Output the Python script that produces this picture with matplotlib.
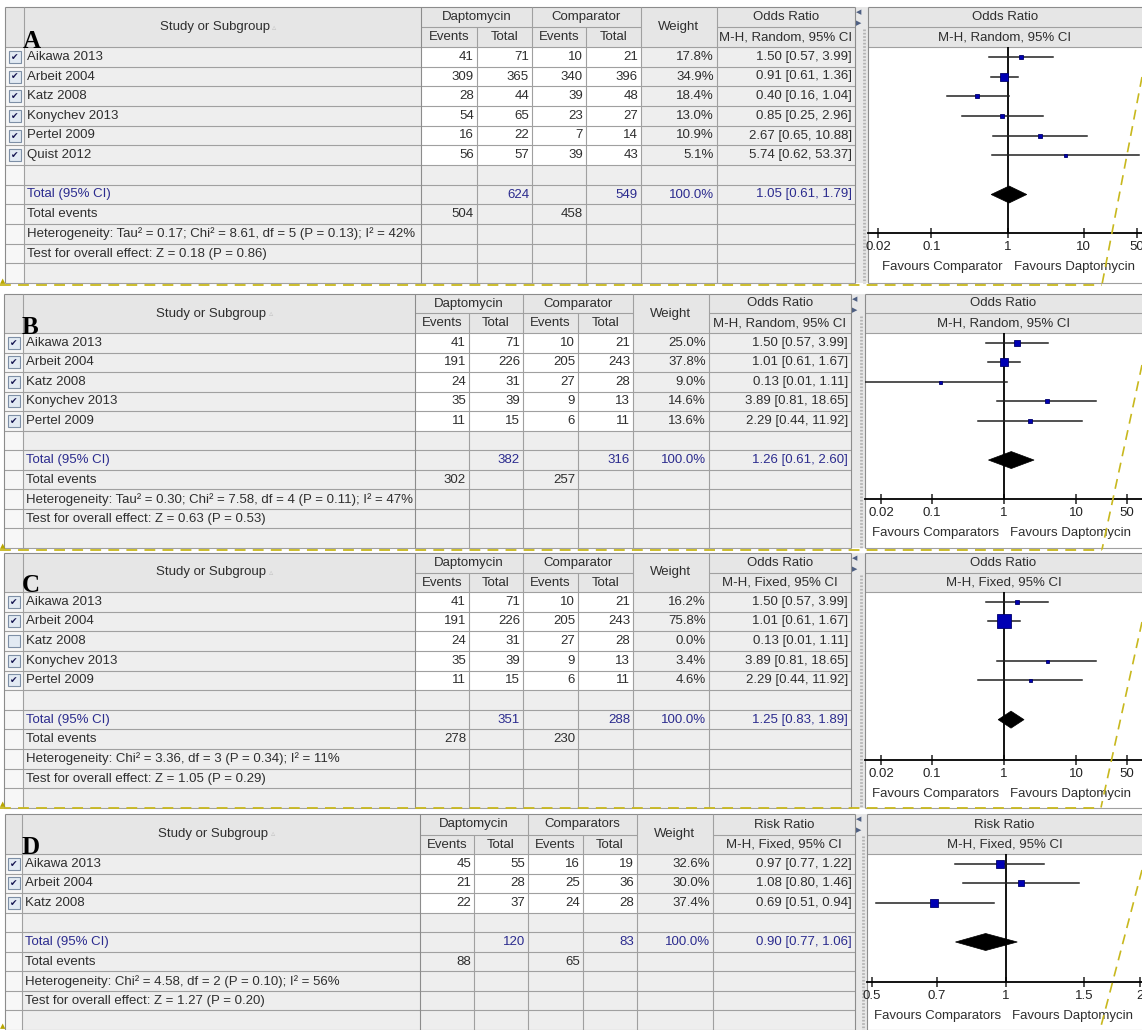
import numpy as np
import matplotlib
matplotlib.use("Agg")
import matplotlib.pyplot as plt
from matplotlib.patches import Rectangle, Polygon
from matplotlib.ticker import FixedLocator, FixedFormatter, NullLocator

plt.rcParams['font.family'] = ['Liberation Sans', 'DejaVu Sans']

# ---------------- data ----------------
# A: odds ratio, random effects, all studies
studies_a = ["Aikawa 2013", "Arbeit 2004", "Katz 2008", "Konychev 2013", "Pertel 2009", "Quist 2012"]
dapt_events_a = [41, 309, 28, 54, 16, 56]
dapt_total_a = [71, 365, 44, 65, 22, 57]
comp_events_a = [10, 340, 39, 23, 7, 39]
comp_total_a = [21, 396, 48, 27, 14, 43]
weight_a = [17.8, 34.9, 18.4, 13.0, 10.9, 5.1]
est_a = [1.50, 0.91, 0.40, 0.85, 2.67, 5.74]
lo_a = [0.57, 0.61, 0.16, 0.25, 0.65, 0.62]
hi_a = [3.99, 1.36, 1.04, 2.96, 10.88, 53.37]
included_a = [True] * 6
pooled_a = [1.05, 0.61, 1.79]
totals_a = [624, 549]
total_events_a = [504, 458]
het_a = "Heterogeneity: Tau² = 0.17; Chi² = 8.61, df = 5 (P = 0.13); I² = 42%"
test_a = "Test for overall effect: Z = 0.18 (P = 0.86)"

# B: odds ratio, random effects
studies_b = ["Aikawa 2013", "Arbeit 2004", "Katz 2008", "Konychev 2013", "Pertel 2009"]
dapt_events_b = [41, 191, 24, 35, 11]
dapt_total_b = [71, 226, 31, 39, 15]
comp_events_b = [10, 205, 27, 9, 6]
comp_total_b = [21, 243, 28, 13, 11]
weight_b = [25.0, 37.8, 9.0, 14.6, 13.6]
est_b = [1.50, 1.01, 0.13, 3.89, 2.29]
lo_b = [0.57, 0.61, 0.01, 0.81, 0.44]
hi_b = [3.99, 1.67, 1.11, 18.65, 11.92]
included_b = [True] * 5
pooled_b = [1.26, 0.61, 2.60]
totals_b = [382, 316]
total_events_b = [302, 257]
het_b = "Heterogeneity: Tau² = 0.30; Chi² = 7.58, df = 4 (P = 0.11); I² = 47%"
test_b = "Test for overall effect: Z = 0.63 (P = 0.53)"

# C: odds ratio, fixed effect, Katz 2008 excluded
studies_c = ["Aikawa 2013", "Arbeit 2004", "Katz 2008", "Konychev 2013", "Pertel 2009"]
dapt_events_c = [41, 191, 24, 35, 11]
dapt_total_c = [71, 226, 31, 39, 15]
comp_events_c = [10, 205, 27, 9, 6]
comp_total_c = [21, 243, 28, 13, 11]
weight_c = [16.2, 75.8, 0.0, 3.4, 4.6]
est_c = [1.50, 1.01, 0.13, 3.89, 2.29]
lo_c = [0.57, 0.61, 0.01, 0.81, 0.44]
hi_c = [3.99, 1.67, 1.11, 18.65, 11.92]
included_c = [True, True, False, True, True]
pooled_c = [1.25, 0.83, 1.89]
totals_c = [351, 288]
total_events_c = [278, 230]
het_c = "Heterogeneity: Chi² = 3.36, df = 3 (P = 0.34); I² = 11%"
test_c = "Test for overall effect: Z = 1.05 (P = 0.29)"

# D: risk ratio, fixed effect
studies_d = ["Aikawa 2013", "Arbeit 2004", "Katz 2008"]
dapt_events_d = [45, 21, 22]
dapt_total_d = [55, 28, 37]
comp_events_d = [16, 25, 24]
comp_total_d = [19, 36, 28]
weight_d = [32.6, 30.0, 37.4]
est_d = [0.97, 1.08, 0.69]
lo_d = [0.77, 0.80, 0.51]
hi_d = [1.22, 1.46, 0.94]
included_d = [True] * 3
pooled_d = [0.90, 0.77, 1.06]
totals_d = [120, 83]
total_events_d = [88, 65]
het_d = "Heterogeneity: Chi² = 4.58, df = 2 (P = 0.10); I² = 56%"
test_d = "Test for overall effect: Z = 1.27 (P = 0.20)"

ticks_or = [0.02, 0.1, 1, 10, 50]
tick_labels_or = ["0.02", "0.1", "1", "10", "50"]
ticks_rr = [0.5, 0.7, 1, 1.5, 2]
tick_labels_rr = ["0.5", "0.7", "1", "1.5", "2"]

# ---------------- figure ----------------
W, H, DPI = 1142, 1030, 100
fig = plt.figure(figsize=(W / DPI, H / DPI), dpi=DPI)
fig.patch.set_facecolor('white')
base = fig.add_axes([0, 0, 1, 1])
base.set_xlim(0, W)
base.set_ylim(H, 0)
base.axis('off')

FS = 9.5
TXT = '#2e2e2e'
BLUE = '#2b2b8e'
GRID = '#a0a0a0'
HDR = '#e6e6e6'
CELL = '#eeeeee'


def rect(x0, y0, x1, y1, fc, z=1, ec='none', lw=0):
    base.add_patch(Rectangle((x0, y0), x1 - x0, y1 - y0, facecolor=fc,
                             edgecolor=ec, lw=lw, zorder=z))


def hline(y, x0, x1, c=GRID, lw=0.8, z=2):
    base.plot([x0, x1], [y, y], color=c, lw=lw, zorder=z, solid_capstyle='butt')


def vline(x, y0, y1, c=GRID, lw=0.8, z=2, ls='-'):
    base.plot([x, x], [y0, y1], color=c, lw=lw, zorder=z, ls=ls, solid_capstyle='butt')


def txt(x, y, s, ha='left', color=TXT, size=FS, **kw):
    base.text(x, y, s, ha=ha, va='center', fontsize=size, color=color, zorder=4, **kw)


def box_side(w):
    return max(3.0, 0.52 * w ** 0.75)


def draw_panel(letter, lay, d):
    cols = lay['cols']
    top, mid, hb, bot = lay['top'], lay['mid'], lay['hb'], lay['bottom']
    n = len(d['studies'])
    nrows = n + 6
    rh = (bot - hb) / nrows
    yc = [hb + (i + 0.5) * rh for i in range(nrows)]

    # cell backgrounds
    rect(cols[0], top, cols[-1], hb, HDR)
    for i in range(nrows):
        y0, y1 = hb + i * rh, hb + (i + 1) * rh
        rect(cols[0], y0, cols[1], y1, '#f7f7f7')
        rect(cols[1], y0, cols[2], y1, CELL)
        rect(cols[2], y0, cols[6], y1, 'white' if i < n else CELL)
        rect(cols[6], y0, cols[8], y1, CELL)

    # grid
    hline(top, cols[0], cols[-1], c='#8c8c8c')
    hline(mid, cols[2], cols[6])
    hline(mid, cols[7], cols[8])
    for i in range(nrows + 1):
        hline(hb + i * rh, cols[0], cols[-1])
    for j, xx in enumerate(cols):
        vline(xx, mid if j in (3, 5) else top, bot, c='#8c8c8c' if j in (0, 2, 8) else GRID)

    # header texts
    base.text(cols[1] - 1, hb + 0.5, letter, ha='left', va='baseline', fontsize=18,
              fontweight='bold', family='Liberation Serif', color='black', zorder=5)
    sc = (cols[1] + cols[2]) / 2 - 8
    txt(sc, (top + hb) / 2, "Study or Subgroup", ha='center')
    txt(sc + 60, (top + hb) / 2 + 1, "▵", ha='center', color='#c4c4c4', size=6)
    txt((cols[2] + cols[4]) / 2, (top + mid) / 2, "Daptomycin", ha='center')
    txt((cols[4] + cols[6]) / 2, (top + mid) / 2, d['group'], ha='center')
    for a in (2, 4):
        txt((cols[a] + cols[a + 1]) / 2, (mid + hb) / 2, "Events", ha='center')
        txt((cols[a + 1] + cols[a + 2]) / 2, (mid + hb) / 2, "Total", ha='center')
    txt((cols[6] + cols[7]) / 2, (top + hb) / 2, "Weight", ha='center')
    txt((cols[7] + cols[8]) / 2, (top + mid) / 2, d['measure'], ha='center')
    txt((cols[7] + cols[8]) / 2, (mid + hb) / 2, d['method'], ha='center')

    # study rows
    for i in range(n):
        y = yc[i]
        cx = (cols[0] + cols[1]) / 2
        base.add_patch(Rectangle((cx - 6, y - 6), 12, 12, facecolor='#e2eaf3',
                                 edgecolor='#7d8fa6', lw=0.8, zorder=3))
        if d['included'][i]:
            base.text(cx, y + 0.5, '✔', ha='center', va='center', fontsize=6.5,
                      color='#141450', zorder=4, family='DejaVu Sans')
        txt(cols[1] + 3, y, d['studies'][i])
        txt(cols[3] - 3, y, str(d['de'][i]), ha='right')
        txt(cols[4] - 3, y, str(d['dt'][i]), ha='right')
        txt(cols[5] - 3, y, str(d['ce'][i]), ha='right')
        txt(cols[6] - 3, y, str(d['ct'][i]), ha='right')
        txt(cols[7] - 3, y, f"{d['w'][i]:.1f}%", ha='right')
        txt(cols[8] - 3, y, f"{d['est'][i]:.2f} [{d['lo'][i]:.2f}, {d['hi'][i]:.2f}]", ha='right')

    # summary rows
    e, l, h = d['pooled']
    y = yc[n + 1]
    txt(cols[1] + 3, y, "Total (95% CI)", color=BLUE)
    txt(cols[4] - 3, y, str(d['totals'][0]), ha='right', color=BLUE)
    txt(cols[6] - 3, y, str(d['totals'][1]), ha='right', color=BLUE)
    txt(cols[7] - 3, y, "100.0%", ha='right', color=BLUE)
    txt(cols[8] - 3, y, f"{e:.2f} [{l:.2f}, {h:.2f}]", ha='right', color=BLUE)
    y = yc[n + 2]
    txt(cols[1] + 3, y, "Total events")
    txt(cols[3] - 3, y, str(d['events'][0]), ha='right')
    txt(cols[5] - 3, y, str(d['events'][1]), ha='right')
    txt(cols[1] + 3, yc[n + 3], d['het'])
    txt(cols[1] + 3, yc[n + 4], d['test'])

    # splitter strip and forest frame
    fl = lay['fl']
    rect(cols[-1], top, fl, bot, '#e8e8e8')
    vline(fl - 4, top + 22, bot, c='#b4b4b4', lw=2.0, ls=(0, (0.6, 0.6)))
    base.text(cols[-1] + 4, top + 5, '◀', ha='center', va='center', fontsize=5,
              color='#4e5f82', zorder=4, family='DejaVu Sans')
    base.text(cols[-1] + 4, top + 16, '▶', ha='center', va='center', fontsize=5,
              color='#4e5f82', zorder=4, family='DejaVu Sans')
    rect(fl, top, W, hb, HDR)
    rect(fl, hb, W, bot, 'white')
    hline(top, fl, W, c='#8c8c8c')
    hline(mid, fl, W)
    hline(hb, fl, W)
    hline(bot, fl, W)
    vline(fl, top, bot, c='#8c8c8c')
    txt((fl + W) / 2, (top + mid) / 2, d['measure'], ha='center')
    txt((fl + W) / 2, (mid + hb) / 2, d['method'], ha='center')

    # forest plot on a log scale
    ay = lay['axis_y']
    ax = fig.add_axes([fl / W, 1 - ay / H, (W - fl) / W, (ay - hb) / H])
    ax.set_xscale('log')
    (p0, v0), (p1, v1) = lay['anchors']
    k = np.log(v1 / v0) / (p1 - p0)
    ax.set_xlim(v0 * np.exp(k * (fl - p0)), v0 * np.exp(k * (W - p0)))
    ax.set_ylim(ay, hb)
    ax.patch.set_alpha(0)
    for s in ('top', 'right', 'left'):
        ax.spines[s].set_visible(False)
    ax.spines['bottom'].set_linewidth(1.3)
    ax.xaxis.set_major_locator(FixedLocator(d['ticks']))
    ax.xaxis.set_major_formatter(FixedFormatter(d['tick_labels']))
    ax.xaxis.set_minor_locator(NullLocator())
    ax.set_yticks([])
    ax.tick_params(axis='x', direction='inout', length=7, width=1.1,
                   labelsize=FS, pad=2.5, colors='#222222')
    ax.axvline(1, color='black', lw=1.3, zorder=2)
    for i in range(n):
        if not d['included'][i]:
            continue
        ax.plot([d['lo'][i], d['hi'][i]], [yc[i], yc[i]], color='#222222', lw=1.1, zorder=3)
        ax.plot(d['est'][i], yc[i], marker='s', ms=box_side(d['w'][i]) * 0.72,
                mfc='#0000b4', mec='#00006a', mew=0.6, zorder=4)
    y = yc[n + 1]
    ax.add_patch(Polygon([(l, y), (e, y - 8.5), (h, y), (e, y + 8.5)], closed=True,
                         facecolor='black', edgecolor='black', lw=0.5, zorder=4))
    ax.annotate(d['fav_left'], xy=(1, 0), xycoords=('data', 'axes fraction'),
                xytext=(-5, -34), textcoords='offset pixels', ha='right', va='center',
                fontsize=FS, color=TXT, annotation_clip=False)
    ax.annotate("Favours Daptomycin", xy=(1, 0), xycoords=('data', 'axes fraction'),
                xytext=(6, -34), textcoords='offset pixels', ha='left', va='center',
                fontsize=FS, color=TXT, annotation_clip=False)


panels = [
    ("A",
     dict(cols=[5, 24, 421, 477, 532, 586, 641, 717, 855], top=7, mid=27, hb=47, bottom=283,
          fl=868, axis_y=233, anchors=((878, 0.02), (1137, 50))),
     dict(studies=studies_a, de=dapt_events_a, dt=dapt_total_a, ce=comp_events_a,
          ct=comp_total_a, w=weight_a, est=est_a, lo=lo_a, hi=hi_a, included=included_a,
          pooled=pooled_a, totals=totals_a, events=total_events_a, het=het_a, test=test_a,
          group="Comparator", measure="Odds Ratio", method="M-H, Random, 95% CI",
          fav_left="Favours Comparator", ticks=ticks_or, tick_labels=tick_labels_or)),
    ("B",
     dict(cols=[4, 23, 415, 469, 523, 578, 633, 709, 851], top=294, mid=313, hb=333, bottom=548,
          fl=865, axis_y=499, anchors=((881, 0.02), (1127, 50))),
     dict(studies=studies_b, de=dapt_events_b, dt=dapt_total_b, ce=comp_events_b,
          ct=comp_total_b, w=weight_b, est=est_b, lo=lo_b, hi=hi_b, included=included_b,
          pooled=pooled_b, totals=totals_b, events=total_events_b, het=het_b, test=test_b,
          group="Comparator", measure="Odds Ratio", method="M-H, Random, 95% CI",
          fav_left="Favours Comparators", ticks=ticks_or, tick_labels=tick_labels_or)),
    ("C",
     dict(cols=[4, 23, 415, 469, 523, 578, 633, 709, 851], top=553, mid=573, hb=592, bottom=808,
          fl=865, axis_y=760, anchors=((881, 0.02), (1127, 50))),
     dict(studies=studies_c, de=dapt_events_c, dt=dapt_total_c, ce=comp_events_c,
          ct=comp_total_c, w=weight_c, est=est_c, lo=lo_c, hi=hi_c, included=included_c,
          pooled=pooled_c, totals=totals_c, events=total_events_c, het=het_c, test=test_c,
          group="Comparator", measure="Odds Ratio", method="M-H, Fixed, 95% CI",
          fav_left="Favours Comparators", ticks=ticks_or, tick_labels=tick_labels_or)),
    ("D",
     dict(cols=[5, 22, 420, 474, 528, 583, 637, 713, 855], top=814, mid=835, hb=854, bottom=1030,
          fl=867, axis_y=982, anchors=((872, 0.5), (1140, 2))),
     dict(studies=studies_d, de=dapt_events_d, dt=dapt_total_d, ce=comp_events_d,
          ct=comp_total_d, w=weight_d, est=est_d, lo=lo_d, hi=hi_d, included=included_d,
          pooled=pooled_d, totals=totals_d, events=total_events_d, het=het_d, test=test_d,
          group="Comparators", measure="Risk Ratio", method="M-H, Fixed, 95% CI",
          fav_left="Favours Comparators", ticks=ticks_rr, tick_labels=tick_labels_rr)),
]

for letter, lay, d in panels:
    draw_panel(letter, lay, d)

# dashed yellow selection outlines on top
ov = fig.add_axes([0, 0, 1, 1])
ov.set_xlim(0, W)
ov.set_ylim(H, 0)
ov.axis('off')
ov.patch.set_alpha(0)
YEL = '#c8b81e'
DASH = (0, (6, 4))
for y, xe in ((284.5, 1102), (549.5, 1102), (807.5, 1101)):
    ov.plot([0, xe], [y, y], color=YEL, lw=1.3, ls=DASH)
for (x0, y0), (x1, y1) in (((1142, 77), (1102, 284.5)), ((1142, 365), (1102, 549.5)),
                           ((1142, 622), (1101, 807.5)), ((1142, 870), (1100, 1030))):
    ov.plot([x0, x1], [y0, y1], color=YEL, lw=1.2, ls=DASH)
for y in (284, 549, 807, 1029):
    ov.text(3, y, '▲', ha='center', va='bottom', fontsize=5, color='#b8a600',
            family='DejaVu Sans')

fig.savefig('out.png', dpi=DPI, facecolor='white')
